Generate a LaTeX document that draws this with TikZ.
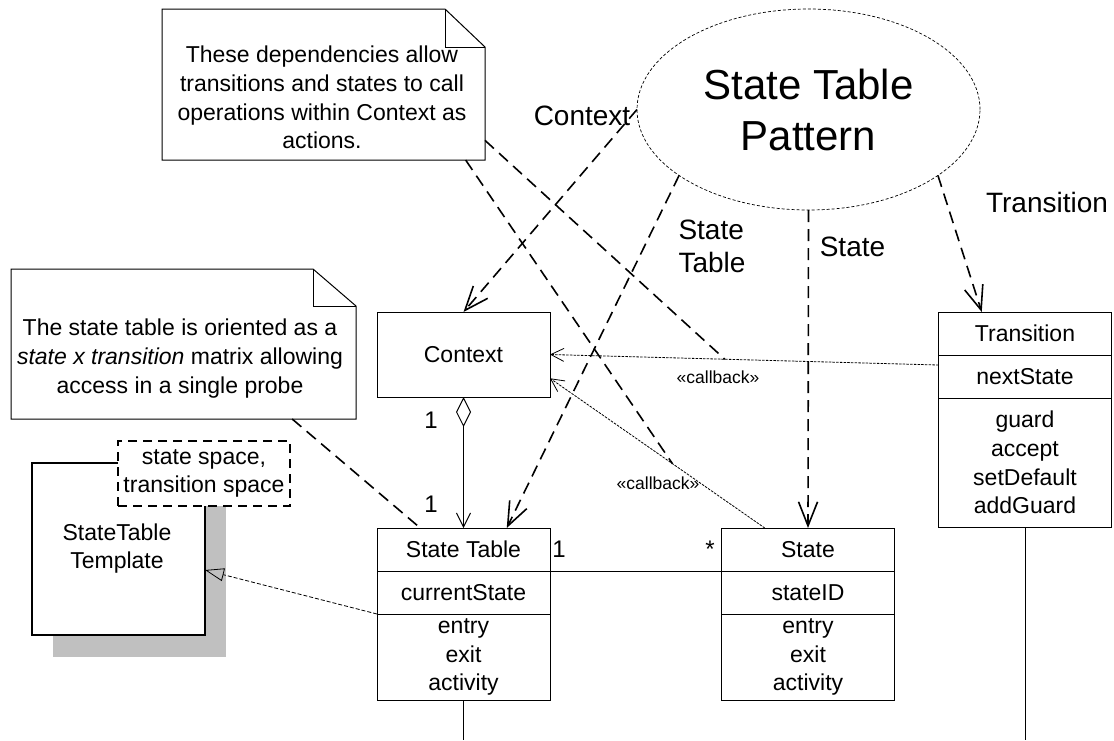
\documentclass[tikz,border=0pt]{standalone}
\usepackage{fontspec}
\setmainfont{Liberation Sans}
\usetikzlibrary{arrows.meta,calc,positioning,shapes.geometric,backgrounds}

\tikzset{
  every node/.style={inner sep=0pt, outer sep=0pt},
  boxfont/.style={font=\fontsize{23}{28.6}\selectfont},
  cmp/.style={draw, line width=1pt, minimum width=173pt, align=center, boxfont},
  noteline/.style={line width=1pt},
  notetext/.style={align=center, font=\fontsize{23}{28.8}\selectfont},
  deplabel/.style={font=\fontsize{28}{33}\selectfont},
  multlabel/.style={font=\fontsize{24}{28}\selectfont, text height=17pt, text depth=0pt},
  cblabel/.style={font=\fontsize{17.5}{20}\selectfont},
  dep/.style={line width=1.6pt, dash pattern=on 12pt off 7pt,
    -{Straight Barb[length=24pt, width=19pt, line width=1.6pt]}},
  noteln/.style={line width=1.6pt, dash pattern=on 12pt off 7pt},
  cb/.style={line width=0.8pt, dash pattern=on 2.5pt off 1.2pt,
    -{Straight Barb[length=13pt, width=13pt, line width=0.8pt]}},
  real/.style={line width=0.8pt, dash pattern=on 4pt off 2pt,
    -{Triangle[open, length=19pt, width=13pt, line width=0.8pt]}},
  agg/.style={line width=1pt,
    {Diamond[open, length=30pt, width=15pt, line width=1pt]}-{Straight Barb[length=14pt, width=14pt, line width=1pt]}},
  assoc/.style={line width=1pt},
  life/.style={line width=1pt},
}
\definecolor{shadowgray}{RGB}{192,192,192}

\begin{document}
\begin{tikzpicture}[x=1pt, y=-1pt]
\useasboundingbox (0,0) rectangle (1114,740);

% collaboration ellipse
\node[ellipse, draw, line width=0.7pt, dash pattern=on 3pt off 2pt,
      minimum width=343pt, minimum height=201pt, align=center,
      font=\fontsize{42}{51}\selectfont] (pat) at (808.5,109.5) {State Table\\Pattern};

% classes
\node[cmp, minimum height=85pt] (ctx) at (463.5,354.5) {Context};

\node[cmp, minimum height=43pt] (st) at (463.5,549.5) {State Table};
\node[cmp, minimum height=43pt, below=0pt of st] (sta) {currentState};
\node[cmp, minimum height=86pt, below=0pt of sta] (sto) {entry\\exit\\activity};

\node[cmp, minimum height=43pt] (stt) at (808,549.5) {State};
\node[cmp, minimum height=43pt, below=0pt of stt] (stta) {stateID};
\node[cmp, minimum height=86pt, below=0pt of stta] (stto) {entry\\exit\\activity};

\node[cmp, minimum height=43pt] (tr) at (1025,333.5) {Transition};
\node[cmp, minimum height=43pt, below=0pt of tr] (tra) {nextState};
\node[cmp, minimum height=129pt, below=0pt of tra] (tro) {guard\\accept\\setDefault\\addGuard};

% template class with its parameter box
\node[draw, line width=1.8pt, fill=white, minimum width=173pt, minimum height=172pt] (tpl) at (118.5,549) {};
\begin{scope}[on background layer]
  \fill[shadowgray] ($(tpl.north west)+(21,22)$) rectangle ($(tpl.south east)+(21,22)$);
\end{scope}
\node[boxfont, align=center] (tplt) at (117,548.5) {StateTable\\Template};
\node[draw, fill=white, line width=1.4pt, dash pattern=on 9pt off 6pt,
      minimum width=172pt, minimum height=65pt, align=center, boxfont] (tplp) at (204,473.5) {state space,\\transition space};

% notes
\node[minimum width=323pt, minimum height=151pt] (n1) at (323.5,84.5) {};
\draw[noteline, fill=white] (n1.north west) -- ($(n1.north east)+(-40,0)$) -- ($(n1.north east)+(0,38)$)
  -- (n1.south east) -- (n1.south west) -- cycle;
\draw[noteline] ($(n1.north east)+(-40,0)$) -- ($(n1.north east)+(-40,38)$) -- ($(n1.north east)+(0,38)$);
\node[notetext] (n1t) at (322,97.5) {These dependencies allow\\transitions and states to call\\operations within Context as\\actions.};

\node[minimum width=345pt, minimum height=150pt] (n2) at (183.5,344) {};
\draw[noteline, fill=white] (n2.north west) -- ($(n2.north east)+(-43,0)$) -- ($(n2.north east)+(0,37)$)
  -- (n2.south east) -- (n2.south west) -- cycle;
\draw[noteline] ($(n2.north east)+(-43,0)$) -- ($(n2.north east)+(-43,37)$) -- ($(n2.north east)+(0,37)$);
\node[notetext] (n2t) at (180,358.5) {The state table is oriented as a\\\textit{state x transition} matrix allowing\\access in a single probe};

% dependencies from the collaboration
\draw[dep] (pat.west) -- (ctx.north);
\draw[dep] (pat.207) -- ($(st.north west)!0.75!(st.north east)$);
\draw[dep] (pat.south) -- (stt.north);
\draw[dep] (pat.333) -- ($(tr.north west)!0.25!(tr.north east)$);

\node[deplabel] (lctx) at (582,116) {Context};
\node[deplabel, align=left] (lst) at (712,246.5) {State\\Table};
\node[deplabel] (lstate) at (852.5,247) {State};
\node[deplabel] (ltr) at (1047,202) {Transition};

% callback dependencies
\draw[cb] ($(tra.north west)+(0,10)$) -- coordinate[pos=0.55] (cbA) (ctx.east);
\draw[cb] ($(stt.north west)!0.25!(stt.north east)$) -- coordinate[pos=0.43] (cbB)
  ($(ctx.north east)!0.78!(ctx.south east)$);
\node[cblabel] (cbl1) at (718,377) {«callback»};
\node[cblabel] (cbl2) at (658,483) {«callback»};

% note anchors
\draw[noteln] ($(n1.north east)!0.87!(n1.south east)$) -- (cbA);
\draw[noteln] ($(n1.south west)!0.94!(n1.south east)$) -- (cbB);
\draw[noteln] ($(n2.south west)!0.815!(n2.south east)$) -- ($(st.north west)!0.25!(st.north east)$);

% aggregation and association
\draw[agg] (ctx.south) -- (st.north);
\node[multlabel] (m1) at (431,420) {1};
\node[multlabel] (m2) at (431,504) {1};
\draw[assoc] (st.south east) -- (stt.south west);
\node[multlabel] (m3) at (559,549) {1};
\node[multlabel] (m4) at (710,549) {*};

% realization of the template
\draw[real] (sta.south west) -- ($(tpl.north east)+(0,107)$);

% lifelines
\coordinate (stbot) at (463.5,740);
\coordinate (trbot) at (1025,740);
\draw[life] (sto.south) -- (stbot);
\draw[life] (tro.south) -- (trbot);
\end{tikzpicture}
\end{document}
